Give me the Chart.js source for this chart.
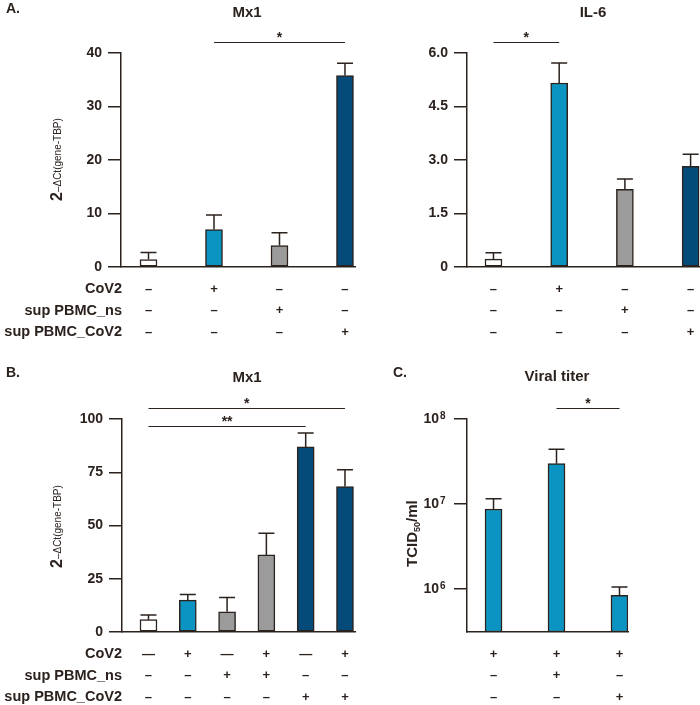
<!DOCTYPE html>
<html>
<head>
<meta charset="utf-8">
<script src="https://cdn.jsdelivr.net/npm/chart.js@4.4.0/dist/chart.umd.min.js"></script>
<style>
  body { margin: 0; background: #fff; }
  #fig { position: relative; width: 700px; height: 705px; background: #fff; }
  #fig canvas { position: absolute; }
</style>
</head>
<body>
<div id="fig">
  <canvas id="mx1A" width="360" height="345" style="left:0;top:0"></canvas>
  <canvas id="il6A" width="340" height="345" style="left:360px;top:0"></canvas>
  <canvas id="mx1B" width="360" height="360" style="left:0;top:345px"></canvas>
  <canvas id="titerC" width="340" height="360" style="left:360px;top:345px"></canvas>
</div>
<script>
// ---- data ----
const rowLabels = ["CoV2", "sup PBMC_ns", "sup PBMC_CoV2"];

// panel A (Mx1 and IL-6 share the same conditions)
const signsA = [
  ["–", "+", "–", "–"],
  ["–", "–", "+", "–"],
  ["–", "–", "–", "+"],
];
const mx1AValues = [1.4, 7.0, 4.0, 35.8];
const mx1AErrTop = [2.7, 9.7, 6.4, 38.1];
const mx1ATicks = [0, 10, 20, 30, 40];
const il6Values = [0.22, 5.16, 2.18, 2.82];
const il6ErrTop = [0.40, 5.72, 2.47, 3.16];
const il6Ticks = [0, 1.5, 3.0, 4.5, 6.0];

// panel B
const signsB = [
  ["—", "+", "—", "+", "—", "+"],
  ["–", "–", "+", "+", "–", "–"],
  ["–", "–", "–", "–", "+", "+"],
];
const mx1BValues = [5.8, 15.0, 9.5, 36.2, 86.9, 68.3];
const mx1BErrTop = [8.0, 17.6, 16.2, 46.4, 93.4, 76.2];
const mx1BTicks = [0, 25, 50, 75, 100];

// panel C
const signsC = [
  ["+", "+", "+"],
  ["–", "+", "–"],
  ["–", "–", "+"],
];
const titerValues = [8.7e6, 2.98e7, 8.4e5];
const titerErrTop = [1.15e7, 4.4e7, 1.05e6];
const titerTicks = [1e6, 1e7, 1e8];
const titerTickExp = ["6", "7", "8"];

// significance brackets: bar index from/to, height in axis units
const sigMx1A = [{ from: 1, to: 3, level: 42.0, label: "*" }];
const sigIl6 = [{ from: 0, to: 1, level: 6.32, label: "*" }];
const sigMx1B = [
  { from: 0, to: 5, level: 105.2, label: "*" },
  { from: 0, to: 4, level: 96.7, label: "**" },
];
const sigTiter = [{ from: 1, to: 2, level: 1.35e8, label: "*" }];

// ---- styles ----
const INK = "#2b221e";
const WHITE = "#ffffff";
const LIGHT = "#0b93c1";
const GREY = "#9b9b9b";
const DARK = "#044b7a";
const FONT = "'Liberation Sans', Arial, Helvetica, sans-serif";

// extra drawing: error bars, brackets, condition table, titles, axis label
const decor = {
  id: "decor",
  afterDraw(chart, args, o) {
    const { ctx, chartArea: ca } = chart;
    const x = chart.scales.x;
    const y = chart.scales.y;
    const meta = chart.getDatasetMeta(0);
    ctx.save();
    ctx.strokeStyle = INK;
    ctx.fillStyle = INK;

    // error bars (upper only)
    ctx.lineWidth = 1.5;
    o.errTop.forEach((e, i) => {
      const bar = meta.data[i];
      const top = y.getPixelForValue(e);
      ctx.beginPath();
      ctx.moveTo(bar.x, bar.y);
      ctx.lineTo(bar.x, top);
      ctx.moveTo(bar.x - 8, top);
      ctx.lineTo(bar.x + 8, top);
      ctx.stroke();
    });

    // exponents for log tick labels ("10" comes from the axis itself)
    if (o.tickExp) {
      ctx.font = "bold 10px " + FONT;
      ctx.textAlign = "left";
      ctx.textBaseline = "alphabetic";
      y.ticks.forEach((t, i) => {
        const py = y.getPixelForValue(t.value);
        ctx.fillText(o.tickExp[i], ca.left - 27, py);
      });
    }

    // significance brackets
    o.sig.forEach((s) => {
      const yy = Math.round(y.getPixelForValue(s.level)) + 0.5;
      const x1 = x.getPixelForValue(s.from);
      const x2 = x.getPixelForValue(s.to);
      ctx.lineWidth = 1.2;
      ctx.beginPath();
      ctx.moveTo(x1, yy);
      ctx.lineTo(x2, yy);
      ctx.stroke();
      ctx.font = "bold 14px " + FONT;
      ctx.textAlign = "center";
      ctx.textBaseline = "alphabetic";
      ctx.fillText(s.label, (x1 + x2) / 2, yy - 1);
    });

    // condition table under the bars
    ctx.textBaseline = "middle";
    o.signs.forEach((row, k) => {
      const yy = ca.bottom + 22 + k * 21.5;
      if (o.rowLabels) {
        ctx.font = "bold 14.5px " + FONT;
        ctx.textAlign = "right";
        ctx.fillText(o.rowLabels[k], o.labelX, yy);
      }
      ctx.font = "bold 13px " + FONT;
      ctx.textAlign = "center";
      row.forEach((s, i) => ctx.fillText(s, x.getPixelForValue(i), yy));
    });

    // panel letter and title
    ctx.textBaseline = "alphabetic";
    if (o.letter) {
      ctx.font = "bold 14px " + FONT;
      ctx.textAlign = "left";
      ctx.fillText(o.letter, o.letterPos[0], o.letterPos[1]);
    }
    ctx.font = "bold 15px " + FONT;
    ctx.textAlign = "center";
    ctx.fillText(o.title, o.titlePos[0], o.titlePos[1]);

    // rotated y-axis label made of parts (size, baseline shift)
    if (o.yLabel) {
      ctx.translate(o.yLabelPos[0], o.yLabelPos[1]);
      ctx.rotate(-Math.PI / 2);
      ctx.textAlign = "left";
      let cx = 0;
      o.yLabel.forEach((p) => {
        ctx.font = (p.weight || "bold") + " " + p.size + "px " + FONT;
        ctx.fillText(p.text, cx, 5 + p.shift);
        cx += ctx.measureText(p.text).width;
      });
    }
    ctx.restore();
  },
};

function makeChart(id, cfg) {
  const yScale = {
    type: cfg.log ? "logarithmic" : "linear",
    min: cfg.yMin,
    max: cfg.yMax,
    afterFit: (s) => { s.width = cfg.axisLeft; },
    afterBuildTicks: (s) => { s.ticks = cfg.yTicks.map((v) => ({ value: v })); },
    border: { display: true, color: INK, width: 1.5 },
    grid: { drawOnChartArea: false, drawTicks: true, tickLength: 13, color: INK, lineWidth: 1.5 },
    ticks: {
      padding: cfg.tickPad || 6,
      color: INK,
      font: { family: FONT, size: 14, weight: "bold" },
      callback: cfg.tickFmt,
    },
  };
  return new Chart(document.getElementById(id), {
    type: "bar",
    data: {
      datasets: [{
        data: cfg.values.map((v, i) => ({ x: i, y: v })),
        backgroundColor: cfg.colors,
        borderColor: INK,
        borderWidth: 1.5,
        borderSkipped: false,
        barThickness: 17,
      }],
    },
    options: {
      responsive: false,
      animation: false,
      devicePixelRatio: 1,
      layout: { padding: cfg.padding },
      scales: {
        x: {
          type: "linear",
          offset: false,
          min: cfg.xMin,
          max: cfg.xMax,
          afterFit: (s) => { s.height = 0; },
          border: { display: true, color: INK, width: 1.5 },
          grid: { display: true, drawOnChartArea: false, drawTicks: false },
          ticks: { display: false },
        },
        y: yScale,
      },
      plugins: {
        legend: { display: false },
        tooltip: { enabled: false },
        decor: cfg.decor,
      },
    },
    plugins: [decor],
  });
}

const yLabel2dCt = [
  { text: "2", size: 16, shift: 0 },
  { text: "–ΔCt(gene-TBP)", size: 10, shift: -1, weight: "normal" },
];

makeChart("mx1A", {
  values: mx1AValues,
  colors: [WHITE, LIGHT, GREY, DARK],
  yMin: 0, yMax: 40, yTicks: mx1ATicks,
  tickFmt: (v) => String(v),
  axisLeft: 121,
  xMin: -0.42, xMax: 3.153,
  padding: { left: 0, top: 53, right: 5, bottom: 78 },
  decor: {
    errTop: mx1AErrTop, sig: sigMx1A, signs: signsA, rowLabels: rowLabels, labelX: 122,
    letter: "A.", letterPos: [6, 13], title: "Mx1", titlePos: [247, 17],
    yLabel: yLabel2dCt, yLabelPos: [57, 201],
  },
});

makeChart("il6A", {
  values: il6Values,
  colors: [WHITE, LIGHT, GREY, DARK],
  yMin: 0, yMax: 6, yTicks: il6Ticks,
  tickFmt: (v) => (v === 0 ? "0" : v.toFixed(1)),
  axisLeft: 107,
  xMin: -0.403, xMax: 3.143,
  padding: { left: 0, top: 53, right: 0, bottom: 78 },
  decor: {
    errTop: il6ErrTop, sig: sigIl6, signs: signsA, rowLabels: null,
    title: "IL-6", titlePos: [233, 17],
  },
});

makeChart("mx1B", {
  values: mx1BValues,
  colors: [WHITE, LIGHT, GREY, GREY, DARK, DARK],
  yMin: 0, yMax: 100, yTicks: mx1BTicks,
  tickFmt: (v) => String(v),
  axisLeft: 122,
  xMin: -0.674, xMax: 5.255,
  padding: { left: 0, top: 74, right: 5, bottom: 73 },
  decor: {
    errTop: mx1BErrTop, sig: sigMx1B, signs: signsB, rowLabels: rowLabels, labelX: 122,
    letter: "B.", letterPos: [6, 32], title: "Mx1", titlePos: [247, 37],
    yLabel: yLabel2dCt, yLabelPos: [57, 223],
  },
});

makeChart("titerC", {
  values: titerValues,
  colors: [LIGHT, LIGHT, LIGHT],
  log: true,
  yMin: 3.1e5, yMax: 1e8, yTicks: titerTicks,
  tickFmt: () => "10",
  tickPad: 15,
  axisLeft: 107,
  xMin: -0.421, xMax: 2.135,
  padding: { left: 0, top: 74, right: 72, bottom: 73 },
  decor: {
    errTop: titerErrTop, sig: sigTiter, signs: signsC, rowLabels: null,
    tickExp: titerTickExp,
    letter: "C.", letterPos: [33, 32], title: "Viral titer", titlePos: [197, 36],
    yLabel: [
      { text: "TCID", size: 15, shift: 0 },
      { text: "50", size: 9, shift: 3 },
      { text: "/ml", size: 15, shift: 0 },
    ],
    yLabelPos: [52, 222],
  },
});
</script>
</body>
</html>
